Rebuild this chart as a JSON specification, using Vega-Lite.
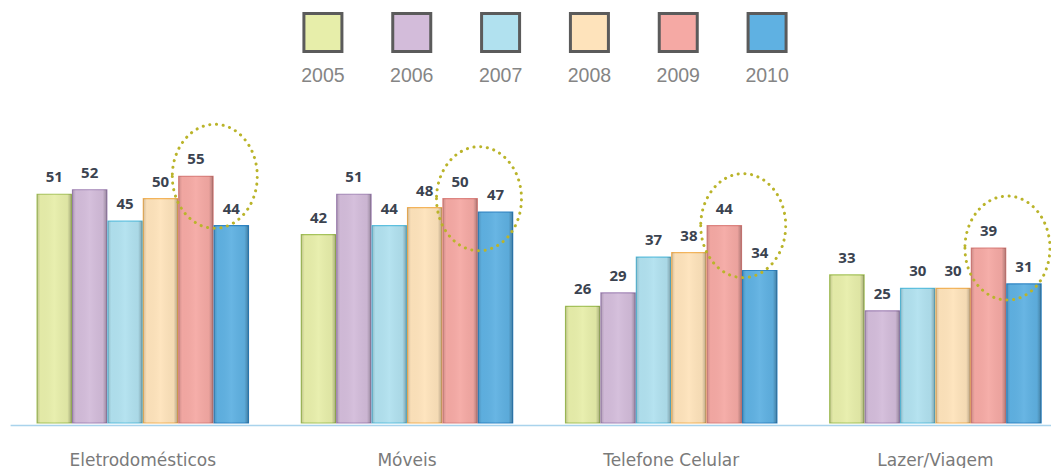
{
  "$schema": "https://vega.github.io/schema/vega-lite/v6.json",
  "padding": {"left": 10, "top": 0, "right": 0, "bottom": 0},
  "background": "#ffffff",
  "config": {"view": {"stroke": null}, "font": "DejaVu Sans"},
  "datasets": {
    "main": [
      {"category": "Eletrodomésticos", "year": "2005", "value": 51},
      {"category": "Eletrodomésticos", "year": "2006", "value": 52},
      {"category": "Eletrodomésticos", "year": "2007", "value": 45},
      {"category": "Eletrodomésticos", "year": "2008", "value": 50},
      {"category": "Eletrodomésticos", "year": "2009", "value": 55},
      {"category": "Eletrodomésticos", "year": "2010", "value": 44},
      {"category": "Móveis", "year": "2005", "value": 42},
      {"category": "Móveis", "year": "2006", "value": 51},
      {"category": "Móveis", "year": "2007", "value": 44},
      {"category": "Móveis", "year": "2008", "value": 48},
      {"category": "Móveis", "year": "2009", "value": 50},
      {"category": "Móveis", "year": "2010", "value": 47},
      {"category": "Telefone Celular", "year": "2005", "value": 26},
      {"category": "Telefone Celular", "year": "2006", "value": 29},
      {"category": "Telefone Celular", "year": "2007", "value": 37},
      {"category": "Telefone Celular", "year": "2008", "value": 38},
      {"category": "Telefone Celular", "year": "2009", "value": 44},
      {"category": "Telefone Celular", "year": "2010", "value": 34},
      {"category": "Lazer/Viagem", "year": "2005", "value": 33},
      {"category": "Lazer/Viagem", "year": "2006", "value": 25},
      {"category": "Lazer/Viagem", "year": "2007", "value": 30},
      {"category": "Lazer/Viagem", "year": "2008", "value": 30},
      {"category": "Lazer/Viagem", "year": "2009", "value": 39},
      {"category": "Lazer/Viagem", "year": "2010", "value": 31}
    ],
    "years": [
      {"year": "2005"}, {"year": "2006"}, {"year": "2007"},
      {"year": "2008"}, {"year": "2009"}, {"year": "2010"}
    ]
  },
  "spacing": 19,
  "center": true,
  "resolve": {"scale": {"x": "independent", "fill": "independent", "stroke": "independent", "y": "independent"}},
  "vconcat": [
    {
      "width": 533,
      "height": 90,
      "data": {"name": "years"},
      "encoding": {
        "x": {"field": "year", "type": "nominal", "scale": {"type": "band", "paddingInner": 0, "paddingOuter": 0}, "axis": null}
      },
      "layer": [
        {
          "mark": {"type": "point", "shape": "square", "size": 1444, "filled": true, "opacity": 1, "stroke": "#5b5b5b", "strokeWidth": 3, "yOffset": -12.5, "xOffset": 12},
          "encoding": {
            "fill": {"field": "year", "type": "nominal", "legend": null,
              "scale": {"domain": ["2005", "2006", "2007", "2008", "2009", "2010"],
                        "range": ["#e7eeaa", "#d3bcda", "#b1e1ef", "#fee3bb", "#f5a9a4", "#5fb1e2"]}}
          }
        },
        {
          "mark": {"type": "text", "font": "Liberation Sans", "fontSize": 19.5, "color": "#858585", "baseline": "middle", "yOffset": 30.5, "xOffset": 12},
          "encoding": {"text": {"field": "year", "type": "nominal"}}
        }
      ]
    },
    {
      "width": 1041,
      "height": 314,
      "data": {"name": "main"},
      "encoding": {
        "x": {
          "field": "category", "type": "nominal",
          "sort": ["Eletrodomésticos", "Móveis", "Telefone Celular", "Lazer/Viagem"],
          "scale": {"paddingInner": 0.2, "paddingOuter": 0.07, "align": 0.73},
          "axis": {"title": null, "ticks": false, "labelAngle": 0, "labelPadding": 27, "labelFontSize": 17, "labelColor": "#7a7a7a", "labelFont": "DejaVu Sans", "domainColor": "#a9d3ec", "domainWidth": 1.5, "offset": 2}
        },
        "y": {"field": "value", "type": "quantitative", "scale": {"domain": [0, 70]}, "axis": null}
      },
      "layer": [
        {
          "mark": {"type": "bar", "strokeWidth": 1.2},
          "encoding": {
            "xOffset": {"field": "year", "type": "nominal", "scale": {"paddingInner": 0.03, "paddingOuter": 0}},
            "fill": {"field": "year", "type": "nominal", "legend": null,
              "scale": {"domain": ["2005", "2006", "2007", "2008", "2009", "2010"],
                        "range": ["#e7eeaa", "#d3bcda", "#b1e1ef", "#fee3bb", "#f5a9a4", "#5fb1e2"]}},
            "stroke": {"field": "year", "type": "nominal", "legend": null,
              "scale": {"domain": ["2005", "2006", "2007", "2008", "2009", "2010"],
                        "range": ["#a6c45a", "#a486b8", "#5cc0df", "#f4b45a", "#de8480", "#2f86c6"]}}
          }
        },
        {
          "mark": {"type": "bar", "fill": {"gradient": "linear", "x1": 0, "x2": 1, "y1": 0, "y2": 0,
            "stops": [
              {"offset": 0, "color": "rgba(0,0,0,0.16)"},
              {"offset": 0.1, "color": "rgba(0,0,0,0.02)"},
              {"offset": 0.5, "color": "rgba(255,255,255,0.06)"},
              {"offset": 0.88, "color": "rgba(0,0,0,0.04)"},
              {"offset": 1, "color": "rgba(0,0,0,0.28)"}
            ]}},
          "encoding": {
            "xOffset": {"field": "year", "type": "nominal", "scale": {"paddingInner": 0.03, "paddingOuter": 0}}
          }
        },
        {
          "mark": {"type": "text", "font": "Open Sans", "fontWeight": "bold", "fontSize": 15, "color": "#3b4350", "baseline": "alphabetic", "dy": -12},
          "encoding": {
            "xOffset": {"field": "year", "type": "nominal", "scale": {"paddingInner": 0.03, "paddingOuter": 0}},
            "text": {"field": "value", "type": "quantitative"}
          }
        },
        {
          "transform": [{"filter": "datum.year === '2009'"}],
          "mark": {"type": "point", "shape": "M -0.817 0 A 0.817 1 0 1 0 0.817 0 A 0.817 1 0 1 0 -0.817 0 Z", "size": 10816, "filled": false, "opacity": 1, "color": "#bab42a", "strokeWidth": 3, "strokeDash": [0.1, 6.6], "strokeCap": "round", "xOffset": 72}
        }
      ]
    }
  ]
}
